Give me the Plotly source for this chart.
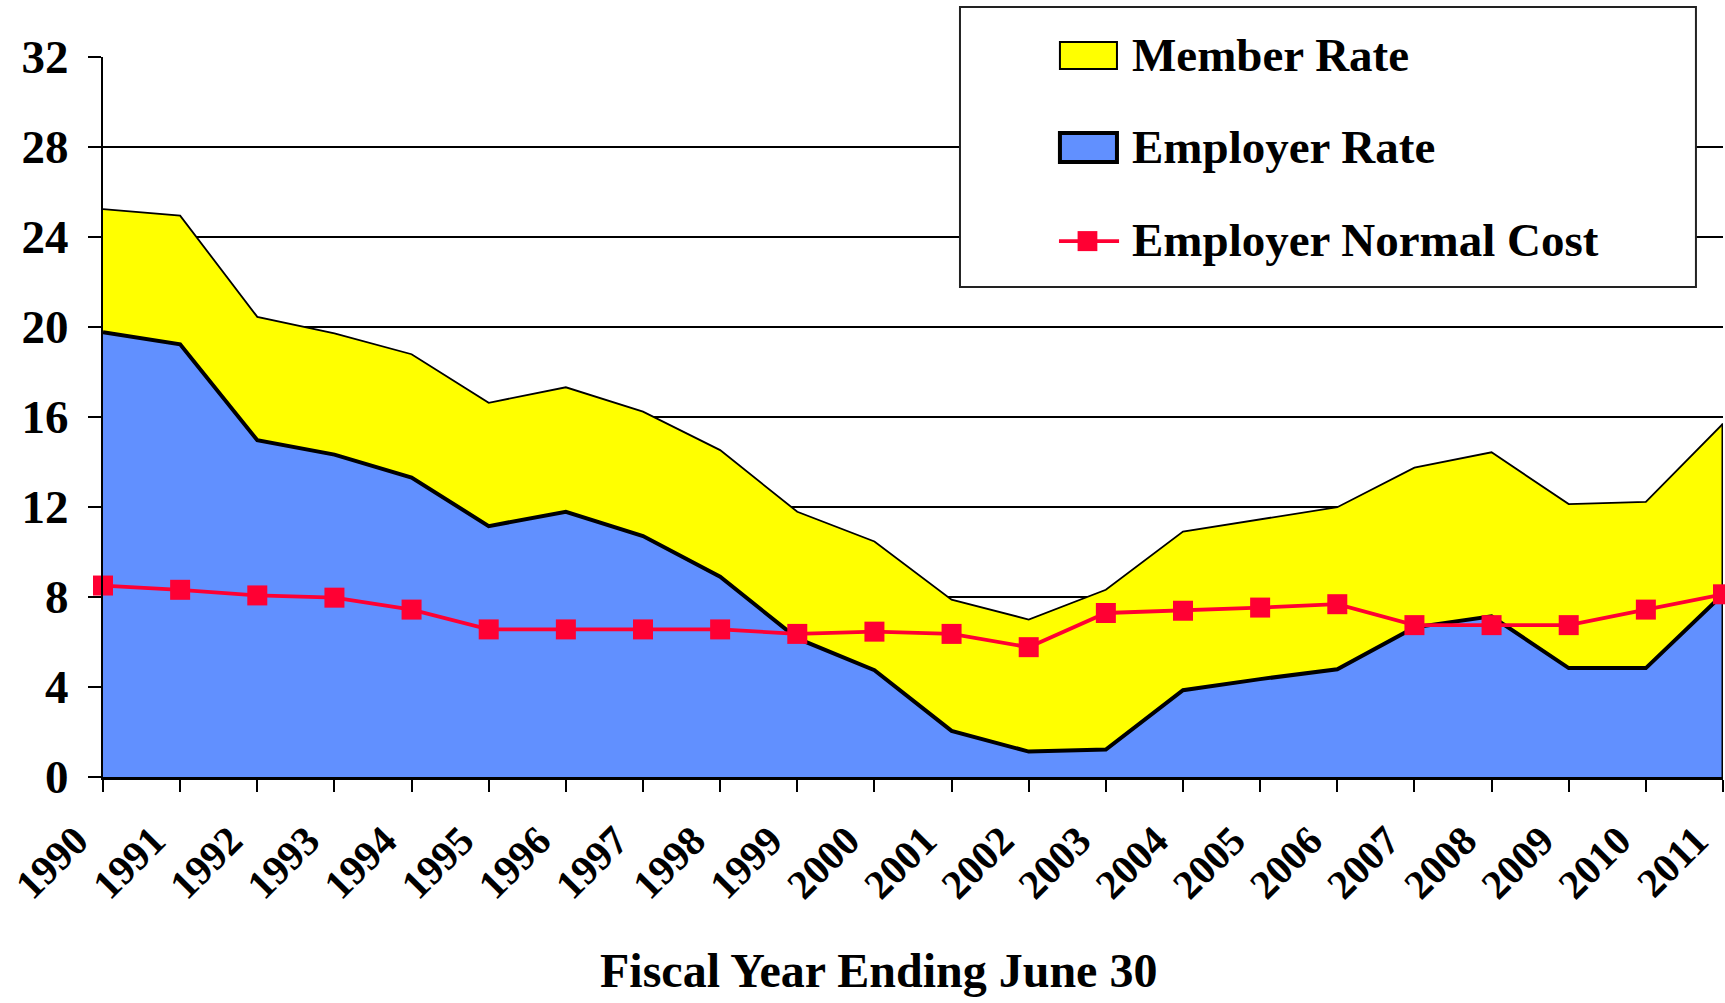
import plotly.graph_objects as go

years = list(range(1990, 2012))
year_labels = [str(y) for y in years]

employer_rate = [19.77, 19.23, 14.97, 14.33, 13.31, 11.15, 11.79, 10.71, 8.90, 6.16, 4.75,
                 2.05, 1.13, 1.22, 3.86, 4.35, 4.79, 6.65, 7.14, 4.84, 4.84, 8.12]
member_rate = [5.47, 5.72, 5.48, 5.39, 5.48, 5.48, 5.53, 5.53, 5.63, 5.63, 5.72,
               5.83, 5.87, 7.10, 7.05, 7.10, 7.20, 7.10, 7.29, 7.29, 7.39, 7.58]
normal_cost = [8.51, 8.32, 8.07, 7.97, 7.44, 6.56, 6.56, 6.56, 6.56, 6.36, 6.46,
               6.36, 5.77, 7.29, 7.39, 7.53, 7.68, 6.75, 6.75, 6.75, 7.44, 8.12]
y_ticks = [0, 4, 8, 12, 16, 20, 24, 28, 32]
series_names = ["Member Rate", "Employer Rate", "Employer Normal Cost"]

total_rate = [e + m for e, m in zip(employer_rate, member_rate)]

FONT = "Times New Roman, Liberation Serif, serif"
YELLOW = "#FFFF00"
BLUE = "#6190FF"
RED = "#FF0033"

fig = go.Figure()

fig.add_trace(go.Scatter(
    x=years, y=total_rate, name=series_names[0], mode="lines",
    fill="tozeroy", fillcolor=YELLOW, line=dict(color="black", width=1.8),
    showlegend=False,
))
fig.add_trace(go.Scatter(
    x=years, y=employer_rate, name=series_names[1], mode="lines",
    fill="tozeroy", fillcolor=BLUE, line=dict(color="black", width=4),
    showlegend=False,
))
# right edge outline of the stacked areas
fig.add_trace(go.Scatter(
    x=[years[-1], years[-1]], y=[0, total_rate[-1]], mode="lines",
    line=dict(color="black", width=3), showlegend=False, hoverinfo="skip",
))
fig.add_trace(go.Scatter(
    x=years, y=normal_cost, name=series_names[2], mode="lines+markers",
    line=dict(color=RED, width=3.8),
    marker=dict(symbol="square", size=20, color=RED),
    showlegend=False, cliponaxis=False,
))

# ---- custom legend (paper coordinates) ----
shapes = [
    dict(type="rect", xref="paper", yref="paper", x0=0.529, x1=0.9833, y0=0.6804, y1=1.0695,
         fillcolor="white", line=dict(color="#222", width=2), layer="above"),
    dict(type="rect", xref="paper", yref="paper", x0=0.5907, x1=0.6259, y0=0.9833, y1=1.0208,
         fillcolor=YELLOW, line=dict(color="black", width=2), layer="above"),
    dict(type="rect", xref="paper", yref="paper", x0=0.5907, x1=0.6259, y0=0.8541, y1=0.8944,
         fillcolor=BLUE, line=dict(color="black", width=4), layer="above"),
    dict(type="line", xref="paper", yref="paper", x0=0.5901, x1=0.6272, y0=0.7443, y1=0.7443,
         line=dict(color=RED, width=3.8), layer="above"),
    dict(type="rect", xref="paper", yref="paper", x0=0.6016, x1=0.6138, y0=0.7304, y1=0.7582,
         fillcolor=RED, line=dict(color=RED, width=0), layer="above"),
]
legend_y = [1.0021, 0.8749, 0.7457]
annotations = [
    dict(text="<b>%s</b>" % n, xref="paper", yref="paper", x=0.634, y=yy,
         xanchor="left", yanchor="middle", showarrow=False,
         font=dict(family=FONT, size=47, color="black"))
    for n, yy in zip(series_names, legend_y)
]
annotations.append(dict(
    text="<b>Fiscal Year Ending June 30</b>", xref="paper", yref="paper",
    x=0.479, y=-0.2687, xanchor="center", yanchor="middle", showarrow=False,
    font=dict(family=FONT, size=48, color="black"),
))

fig.update_layout(
    width=1725, height=1003,
    margin=dict(l=103, r=2, t=57, b=226),
    paper_bgcolor="white", plot_bgcolor="white",
    font=dict(family=FONT, color="black", size=40),
    showlegend=False,
    shapes=shapes,
    annotations=annotations,
    xaxis=dict(
        range=[years[0], years[-1]], tickmode="array", tickvals=years, ticktext=year_labels,
        tickangle=-45, tickfont=dict(family=FONT, size=41, color="black", weight="bold"),
        showgrid=False, showline=True, linecolor="black", linewidth=3,
        ticks="outside", ticklen=12, tickwidth=2, tickcolor="black", zeroline=False,
        ticklabelshift=-27, ticklabelstandoff=8, ticklabeloverflow="allow",
    ),
    yaxis=dict(
        range=[0, 32], tickmode="array", tickvals=y_ticks,
        tickfont=dict(family=FONT, size=47, color="black", weight="bold"),
        showgrid=True, gridcolor="black", gridwidth=1.5,
        showline=True, linecolor="black", linewidth=2,
        ticks="outside", ticklen=13, tickwidth=2, tickcolor="black", zeroline=False,
        ticklabelstandoff=10,
    ),
)

fig.write_html(
    "out.html",
    config={"displayModeBar": False},
    post_script="document.body.style.margin='0';document.body.style.overflow='hidden';",
)
